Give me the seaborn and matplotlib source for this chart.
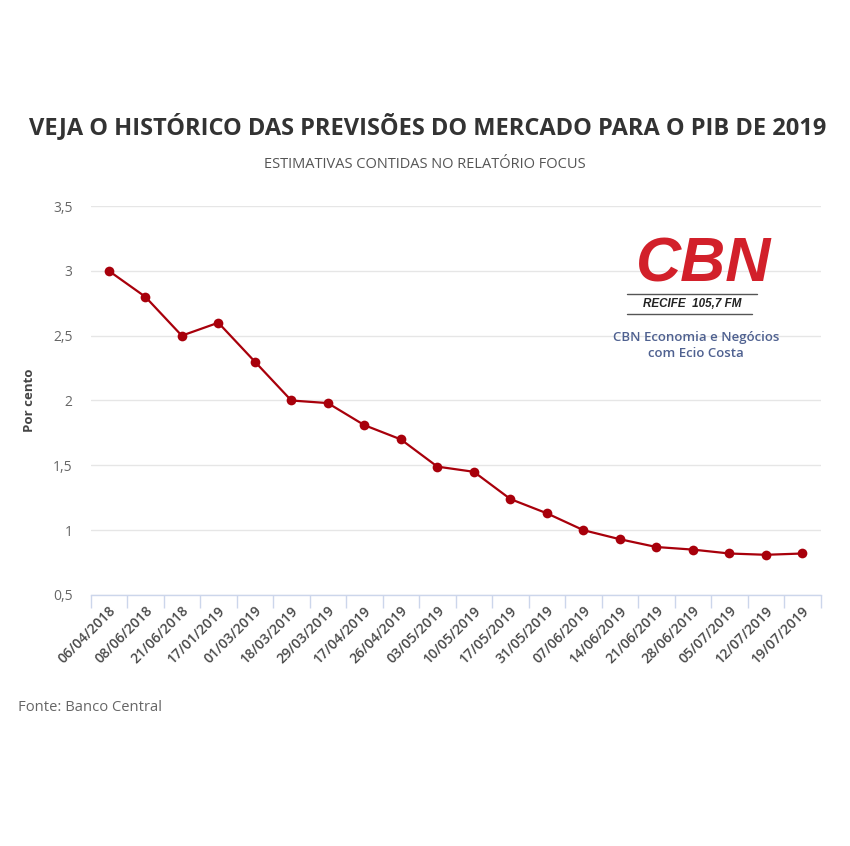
import matplotlib
matplotlib.use("Agg")
import matplotlib.pyplot as plt
from matplotlib.lines import Line2D
import seaborn as sns
import pandas as pd
import numpy as np

datas = ["06/04/2018", "08/06/2018", "21/06/2018", "17/01/2019", "01/03/2019",
         "18/03/2019", "29/03/2019", "17/04/2019", "26/04/2019", "03/05/2019",
         "10/05/2019", "17/05/2019", "31/05/2019", "07/06/2019", "14/06/2019",
         "21/06/2019", "28/06/2019", "05/07/2019", "12/07/2019", "19/07/2019"]
previsoes = [3.0, 2.8, 2.5, 2.6, 2.3, 2.0, 1.98, 1.81, 1.70, 1.49,
             1.45, 1.24, 1.13, 1.00, 0.93, 0.87, 0.85, 0.82, 0.81, 0.82]
y_ticks = [0.5, 1, 1.5, 2, 2.5, 3, 3.5]
y_tick_labels = ["0,5", "1", "1,5", "2", "2,5", "3", "3,5"]

titulo = "VEJA O HISTÓRICO DAS PREVISÕES DO MERCADO PARA O PIB DE 2019"
subtitulo = "ESTIMATIVAS CONTIDAS NO RELATÓRIO FOCUS"
fonte = "Fonte: Banco Central"

sns.set_theme(style="white")
plt.rcParams["font.family"] = ["Open Sans", "DejaVu Sans"]

df = pd.DataFrame({"data": datas, "valor": previsoes})

fig = plt.figure(figsize=(8.5, 8.46), dpi=100)
fig.patch.set_facecolor("white")
ax = fig.add_axes([0.1065, 0.2967, 0.859, 0.4598])

line_color = "#a8000b"
sns.lineplot(data=df, x="data", y="valor", ax=ax, color=line_color,
             linewidth=1.6, marker="o", markersize=7, markeredgewidth=0,
             sort=False)

ax.set_xlim(-0.5, len(datas) - 0.5)
ax.set_ylim(0.5, 3.5)
ax.set_yticks(y_ticks)
ax.set_yticklabels(y_tick_labels, color="#666666", fontsize=10)
ax.set_xticks(range(len(datas)))
ax.set_xticklabels(datas, rotation=45, ha="right", rotation_mode="anchor",
                   color="#4a4a4a", fontsize=10, fontweight="semibold")
ax.tick_params(axis="x", which="major", length=0, pad=6)
ax.set_xticks(np.arange(-0.5, len(datas), 1.0), minor=True)
ax.tick_params(axis="x", which="minor", length=9, color="#ccd6eb", width=1,
               direction="out", bottom=True)
ax.tick_params(axis="y", length=0, pad=13)

ax.grid(axis="y", color="#e6e6e6", linewidth=1)
ax.grid(axis="x", visible=False)
for s in ["top", "right", "left"]:
    ax.spines[s].set_visible(False)
ax.spines["bottom"].set_color("#ccd6eb")
ax.spines["bottom"].set_linewidth(1)
ax.set_xlabel("")
ax.set_ylabel("Por cento", color="#444444", fontsize=9.5, fontweight="bold",
              labelpad=12)

fig.text(0.503, 1 - 127 / 846, titulo, ha="center", va="center", fontsize=17,
         fontweight="bold", color="#333333")
fig.text(0.5, 1 - 164 / 846, subtitulo, ha="center", va="center", fontsize=10.5,
         color="#555555")
fig.text(0.021, 0.164, fonte, ha="left", va="center", fontsize=10.6,
         color="#666666")

# CBN logo text
fig.text(0.828, 1 - 265 / 846, "CBN", ha="center", va="center", fontsize=45,
         fontweight="bold", fontstyle="italic", color="#d2202a",
         family=["Liberation Sans", "DejaVu Sans"])
fig.add_artist(Line2D([627 / 850, 757 / 850], [1 - 294 / 846, 1 - 294 / 846],
                      color="#555555", linewidth=1))
fig.text(0.814, 1 - 304 / 846, "RECIFE  105,7 FM", ha="center", va="center",
         fontsize=8.4, fontweight="bold", fontstyle="italic", color="#222222",
         family=["Liberation Sans", "DejaVu Sans"])
fig.add_artist(Line2D([627 / 850, 752 / 850], [1 - 314 / 846, 1 - 314 / 846],
                      color="#555555", linewidth=1))
fig.text(0.819, 1 - 337 / 846, "CBN Economia e Negócios", ha="center",
         va="center", fontsize=9.5, color="#4f6190", fontweight="semibold")
fig.text(0.819, 1 - 353 / 846, "com Ecio Costa", ha="center", va="center",
         fontsize=9.5, color="#4f6190", fontweight="semibold")

fig.savefig("out.png", dpi=100, facecolor="white")
